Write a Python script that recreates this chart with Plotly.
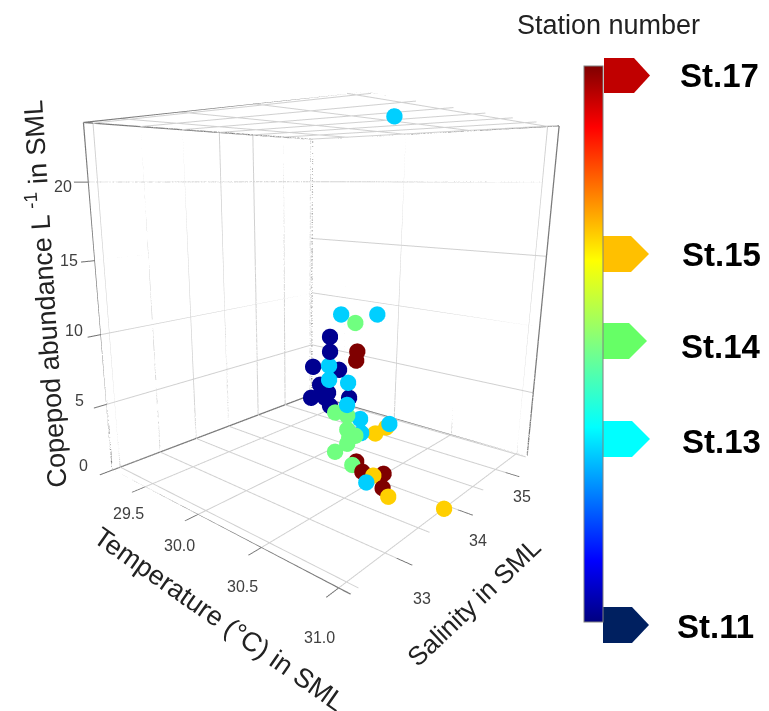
import plotly.graph_objects as go
W,H=769,711
eye=(1.1484,-1.4152,0.351); center=(0.1304,-0.255,-0.0526); aspect=(0.9059,0.9345,1.0)
x0,x1,y0,y1,z1=29.1473,31.0687,32.4059,35.5403,23.5949
cx,cy,Hh=302.62,346,525
x_grid=[29.5,30.0,30.5,31.0]; y_grid=[32.5,33.0,33.5,34.0,34.5,35.0,35.5]; z_grid=[0,5,10,15,20]
x_ticks=[29.5,30.0,30.5,31.0]; y_ticks=[33,34,35]; z_ticks=[0,5,10,15,20]
st11_t=[30.125,30.126,30.046,30.170,30.080,30.037,30.119,30.105,30.129,30.221,30.095]
st11_s=[33.997,33.998,33.887,34.059,33.934,33.874,33.988,33.968,34.002,34.129,33.954]
st11_c=[9.56,8.48,7.38,7.16,6.05,5.07,5.45,5.07,4.46,5.07,5.60]
st13_t=[30.189,30.357,30.815,30.135,30.136,30.227,30.224,30.289,30.296,30.432,30.559]
st13_s=[34.041,34.274,33.359,33.967,33.968,34.095,34.091,34.180,34.190,34.378,33.710]
st13_c=[11.20,11.20,23.30,7.53,6.49,6.27,4.61,3.54,2.46,3.16,0.80]
st14_t=[30.262,30.174,30.232,30.234,30.274,30.244,30.235,30.176,30.352]
st14_s=[34.120,33.998,34.079,34.081,34.136,34.095,34.083,34.001,33.927]
st14_c=[10.63,4.08,3.85,2.77,2.30,2.15,1.68,1.05,0.80]
st15_t=[30.412,30.359,30.538,30.756,31.062]
st15_s=[34.372,34.298,33.871,33.613,33.750]
st15_c=[2.85,2.38,0.80,0.80,0.80]
st17_t=[30.280,30.276,30.341,30.457,30.571,30.673,30.995]
st17_s=[34.124,34.118,34.017,33.869,33.968,33.716,32.393]
st17_c=[8.62,7.97,0.80,0.80,0.80,0.80,0.80]
fig=go.Figure()
def lines(segs,color,width):
    xs,ys,zs=[],[],[]
    for a,b in segs:
        xs+=[a[0],b[0],None];ys+=[a[1],b[1],None];zs+=[a[2],b[2],None]
    fig.add_trace(go.Scatter3d(x=xs,y=ys,z=zs,mode='lines',line=dict(color=color,width=width),hoverinfo='skip'))
g=[]
for zz in (0,z1):
    g+=[((t,y0,zz),(t,y1,zz)) for t in x_grid]+[((x0,t,zz),(x1,t,zz)) for t in y_grid]
g+=[((x0,t,0),(x0,t,z1)) for t in y_grid]+[((x0,y0,t),(x0,y1,t)) for t in z_grid]
g+=[((t,y1,0),(t,y1,z1)) for t in x_grid]+[((x0,y1,t),(x1,y1,t)) for t in z_grid]
lines(g,'#d0d0d0',2)
fr=[]
c4=[(x0,y0),(x1,y0),(x1,y1),(x0,y1),(x0,y0)]
for zz in (0,z1):
    fr+=[((c4[i][0],c4[i][1],zz),(c4[i+1][0],c4[i+1][1],zz)) for i in range(4)]
fr+=[((a,b,0),(a,b,z1)) for a,b in [(x0,y0),(x1,y1),(x0,y1)]]
lines(fr,'#7a7a7a',2.5)
for tt,ss,cc,col in [(st11_t,st11_s,st11_c,'#000090'),(st15_t,st15_s,st15_c,'#FFCF00'),(st13_t,st13_s,st13_c,'#00CFFF'),(st14_t,st14_s,st14_c,'#70FF80'),(st17_t,st17_s,st17_c,'#7F0000')]:
    fig.add_trace(go.Scatter3d(x=tt,y=ss,z=cc,mode='markers',marker=dict(size=9.5,color=col,line=dict(width=0),opacity=1)))
jet=[[0,'#000080'],[.11,'#0000FF'],[.35,'#00FFFF'],[.65,'#FFFF00'],[.89,'#FF0000'],[1,'#800000']]
fig.add_trace(go.Scatter3d(x=[st11_t[0]],y=[st11_s[0]],z=[st11_c[0]],mode='markers',hoverinfo='skip',
  marker=dict(size=1,color=[11],cmin=11,cmax=17,colorscale=jet,showscale=True,
   colorbar=dict(x=584/W,xanchor='left',y=1-66/H,yanchor='top',thickness=19,thicknessmode='pixels',len=556,lenmode='pixels',xpad=0,ypad=0,outlinecolor='#808080',outlinewidth=1,showticklabels=False,ticks=''))))
def px(x):return x/W
def py(y):return 1-y/H
shapes=[]
for (xa,xb,xc,yt_,yb,col) in [(604,634,650,58,93,'#C00000'),(602,631,649,236,272,'#FFC000'),(600,629,647,323,359,'#66FF66'),(603,632,650,421,457,'#00FFFF'),(603,632,649,607,643,'#002060')]:
    ym=(yt_+yb)/2
    shapes.append(dict(type='path',xref='paper',yref='paper',fillcolor=col,line=dict(width=0),
      path=f"M{px(xa)},{py(yt_)}L{px(xb)},{py(yt_)}L{px(xc)},{py(ym)}L{px(xb)},{py(yb)}L{px(xa)},{py(yb)}Z"))
ann=[]
def T(text,x,y,size,color='#000',bold=False,ang=0):
    ann.append(dict(text=f"<b>{text}</b>" if bold else text,x=px(x),y=py(y),xref='paper',yref='paper',showarrow=False,xanchor='center',yanchor='middle',textangle=ang,font=dict(family='Liberation Sans',size=size,color=color)))
for s,x,y in [('St.17',719,76),('St.15',721,254),('St.14',721,346),('St.13',721,441),('St.11',715,626)]:
    T(s,x,y,33,bold=True)
T('Station number',608,25,27,'#222')
T('Copepod abundance L <sup>-1</sup> in SML',43,294,27,'#222',ang=-93.6)
T('Temperature (°C) in SML',219,619,27,'#222',ang=35)
T('Salinity in SML',474,602,26,'#222',ang=-43.5)
for v,x,y in zip(x_ticks,[128,179,242,319],[513,545,586,637]): T(f"{v:.1f}",x,y,16,'#404040')
for v,x,y in zip(y_ticks,[422,478,522],[598,540,496]): T(str(v),x,y,16,'#404040')
for v,x,y in zip(z_ticks,[83,79,74,69,63],[466,400,331,261,186]): T(str(v),x,y,16,'#404040')
ax=dict(showgrid=False,zeroline=False,showline=False,showbackground=False,showticklabels=False,ticks='outside',ticklen=12,tickcolor='#707070',tickwidth=2,title=dict(text=''),showspikes=False)
fig.update_layout(width=W,height=H,margin=dict(l=0,r=0,t=0,b=0),showlegend=False,paper_bgcolor='white',shapes=shapes,annotations=ann,
 scene=dict(domain=dict(x=[0,2*cx/W],y=[1-(cy+Hh/2)/H,1-(cy-Hh/2)/H]),aspectmode='manual',aspectratio=dict(x=aspect[0],y=aspect[1],z=aspect[2]),
  camera=dict(eye=dict(x=eye[0],y=eye[1],z=eye[2]),center=dict(x=center[0],y=center[1],z=center[2]),up=dict(x=0,y=0,z=1)),
  xaxis=dict(ax,range=[x0,x1],tickvals=x_ticks),yaxis=dict(ax,range=[y0,y1],tickvals=y_ticks),zaxis=dict(ax,range=[0,z1],tickvals=z_ticks)))
fig.write_html("out.html",config=dict(displayModeBar=False),post_script="document.body.style.margin='0';document.body.style.overflow='hidden';")
